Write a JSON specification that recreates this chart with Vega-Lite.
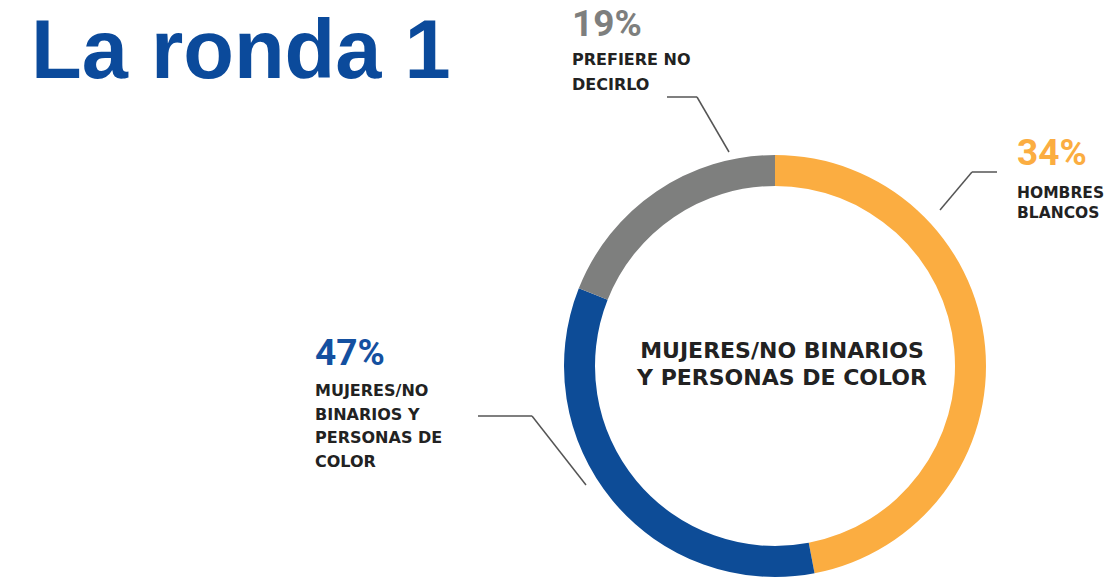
{
  "$schema": "https://vega.github.io/schema/vega-lite/v6.json",
  "width": 1111,
  "height": 583,
  "autosize": {"type": "fit", "contains": "padding"},
  "padding": 0,
  "background": "white",
  "config": {"view": {"stroke": null}},
  "datasets": {
    "segmentos": [
      {"grupo": "Hombres blancos", "arco": 47, "orden": 1, "pct": "34%", "etiqueta": "HOMBRES\nBLANCOS"},
      {"grupo": "Mujeres/No binarios y personas de color", "arco": 34, "orden": 2, "pct": "47%", "etiqueta": "MUJERES/NO\nBINARIOS Y\nPERSONAS DE\nCOLOR"},
      {"grupo": "Prefiere no decirlo", "arco": 19, "orden": 3, "pct": "19%", "etiqueta": "PREFIERE NO\nDECIRLO"}
    ]
  },
  "data": {"name": "segmentos"},
  "layer": [
    {
      "mark": {"type": "arc", "radius": 211, "radius2": 180},
      "encoding": {
        "theta": {"field": "arco", "type": "quantitative", "stack": true},
        "order": {"field": "orden", "type": "quantitative"},
        "color": {"field": "grupo", "type": "nominal", "legend": null,
          "scale": {"domain": ["Hombres blancos", "Mujeres/No binarios y personas de color", "Prefiere no decirlo"], "range": ["#FBAD41", "#0D4C97", "#7E7F7E"]}},
        "x": {"datum": 0, "type": "quantitative", "axis": null, "scale": {"domain": [-775, 336], "nice": false, "zero": false}},
        "y": {"datum": 0, "type": "quantitative", "axis": null, "scale": {"domain": [-217, 366], "nice": false, "zero": false}}
      }
    },
    {
      "data": {"values": [{"t": "La ronda 1"}]},
      "mark": {"type": "text", "align": "left", "baseline": "alphabetic", "font": "Liberation Sans", "fontWeight": "bold", "fontSize": 83, "color": "#0B4A9B"},
      "encoding": {
        "text": {"field": "t"},
        "x": {"datum": -744, "type": "quantitative", "axis": null, "scale": {"domain": [-775, 336], "nice": false, "zero": false}},
        "y": {"datum": 288, "type": "quantitative", "axis": null, "scale": {"domain": [-217, 366], "nice": false, "zero": false}}
      }
    },
    {
      "data": {"values": [{"t": "MUJERES/NO BINARIOS\nY PERSONAS DE COLOR"}]},
      "mark": {"type": "text", "align": "center", "baseline": "alphabetic", "font": "DejaVu Sans", "fontWeight": "bold", "fontSize": 22, "lineHeight": 27, "lineBreak": "\n", "color": "#222222"},
      "encoding": {
        "text": {"field": "t"},
        "x": {"datum": 7, "type": "quantitative", "axis": null, "scale": {"domain": [-775, 336], "nice": false, "zero": false}},
        "y": {"datum": 8, "type": "quantitative", "axis": null, "scale": {"domain": [-217, 366], "nice": false, "zero": false}}
      }
    },
    {
      "transform": [{"filter": "datum.orden == 1"}],
      "mark": {"type": "text", "align": "left", "baseline": "alphabetic", "font": "Roboto", "fontWeight": "bold", "fontSize": 37, "color": "#FBAD41"},
      "encoding": {
        "text": {"field": "pct"},
        "x": {"datum": 242, "type": "quantitative", "axis": null, "scale": {"domain": [-775, 336], "nice": false, "zero": false}},
        "y": {"datum": 201, "type": "quantitative", "axis": null, "scale": {"domain": [-217, 366], "nice": false, "zero": false}}
      }
    },
    {
      "transform": [{"filter": "datum.orden == 1"}],
      "mark": {"type": "text", "align": "left", "baseline": "alphabetic", "font": "DejaVu Sans", "fontWeight": "bold", "fontSize": 15.5, "lineHeight": 20, "lineBreak": "\n", "color": "#222222"},
      "encoding": {
        "text": {"field": "etiqueta"},
        "x": {"datum": 242, "type": "quantitative", "axis": null, "scale": {"domain": [-775, 336], "nice": false, "zero": false}},
        "y": {"datum": 168, "type": "quantitative", "axis": null, "scale": {"domain": [-217, 366], "nice": false, "zero": false}}
      }
    },
    {
      "transform": [{"filter": "datum.orden == 2"}],
      "mark": {"type": "text", "align": "left", "baseline": "alphabetic", "font": "Roboto", "fontWeight": "bold", "fontSize": 37, "color": "#1450A0"},
      "encoding": {
        "text": {"field": "pct"},
        "x": {"datum": -460, "type": "quantitative", "axis": null, "scale": {"domain": [-775, 336], "nice": false, "zero": false}},
        "y": {"datum": 1, "type": "quantitative", "axis": null, "scale": {"domain": [-217, 366], "nice": false, "zero": false}}
      }
    },
    {
      "transform": [{"filter": "datum.orden == 2"}],
      "mark": {"type": "text", "align": "left", "baseline": "alphabetic", "font": "DejaVu Sans", "fontWeight": "bold", "fontSize": 16, "lineHeight": 23.5, "lineBreak": "\n", "color": "#222222"},
      "encoding": {
        "text": {"field": "etiqueta"},
        "x": {"datum": -460, "type": "quantitative", "axis": null, "scale": {"domain": [-775, 336], "nice": false, "zero": false}},
        "y": {"datum": -30, "type": "quantitative", "axis": null, "scale": {"domain": [-217, 366], "nice": false, "zero": false}}
      }
    },
    {
      "transform": [{"filter": "datum.orden == 3"}],
      "mark": {"type": "text", "align": "left", "baseline": "alphabetic", "font": "Roboto", "fontWeight": "bold", "fontSize": 37, "color": "#7E7F7E"},
      "encoding": {
        "text": {"field": "pct"},
        "x": {"datum": -203, "type": "quantitative", "axis": null, "scale": {"domain": [-775, 336], "nice": false, "zero": false}},
        "y": {"datum": 330, "type": "quantitative", "axis": null, "scale": {"domain": [-217, 366], "nice": false, "zero": false}}
      }
    },
    {
      "transform": [{"filter": "datum.orden == 3"}],
      "mark": {"type": "text", "align": "left", "baseline": "alphabetic", "font": "DejaVu Sans", "fontWeight": "bold", "fontSize": 16, "lineHeight": 25, "lineBreak": "\n", "color": "#222222"},
      "encoding": {
        "text": {"field": "etiqueta"},
        "x": {"datum": -203, "type": "quantitative", "axis": null, "scale": {"domain": [-775, 336], "nice": false, "zero": false}},
        "y": {"datum": 301, "type": "quantitative", "axis": null, "scale": {"domain": [-217, 366], "nice": false, "zero": false}}
      }
    },
    {
      "data": {"values": [{}]},
      "mark": {"type": "rule", "color": "#555555", "strokeWidth": 1.5},
      "encoding": {
        "x": {"datum": -108, "type": "quantitative", "axis": null, "scale": {"domain": [-775, 336], "nice": false, "zero": false}},
        "y": {"datum": 269, "type": "quantitative", "axis": null, "scale": {"domain": [-217, 366], "nice": false, "zero": false}},
        "x2": {"datum": -78},
        "y2": {"datum": 269}
      }
    },
    {
      "data": {"values": [{}]},
      "mark": {"type": "rule", "color": "#555555", "strokeWidth": 1.5},
      "encoding": {
        "x": {"datum": -78, "type": "quantitative", "axis": null, "scale": {"domain": [-775, 336], "nice": false, "zero": false}},
        "y": {"datum": 269, "type": "quantitative", "axis": null, "scale": {"domain": [-217, 366], "nice": false, "zero": false}},
        "x2": {"datum": -46},
        "y2": {"datum": 214}
      }
    },
    {
      "data": {"values": [{}]},
      "mark": {"type": "rule", "color": "#555555", "strokeWidth": 1.5},
      "encoding": {
        "x": {"datum": 165, "type": "quantitative", "axis": null, "scale": {"domain": [-775, 336], "nice": false, "zero": false}},
        "y": {"datum": 156, "type": "quantitative", "axis": null, "scale": {"domain": [-217, 366], "nice": false, "zero": false}},
        "x2": {"datum": 197},
        "y2": {"datum": 194}
      }
    },
    {
      "data": {"values": [{}]},
      "mark": {"type": "rule", "color": "#555555", "strokeWidth": 1.5},
      "encoding": {
        "x": {"datum": 197, "type": "quantitative", "axis": null, "scale": {"domain": [-775, 336], "nice": false, "zero": false}},
        "y": {"datum": 194, "type": "quantitative", "axis": null, "scale": {"domain": [-217, 366], "nice": false, "zero": false}},
        "x2": {"datum": 222},
        "y2": {"datum": 194}
      }
    },
    {
      "data": {"values": [{}]},
      "mark": {"type": "rule", "color": "#555555", "strokeWidth": 1.5},
      "encoding": {
        "x": {"datum": -297, "type": "quantitative", "axis": null, "scale": {"domain": [-775, 336], "nice": false, "zero": false}},
        "y": {"datum": -50, "type": "quantitative", "axis": null, "scale": {"domain": [-217, 366], "nice": false, "zero": false}},
        "x2": {"datum": -243},
        "y2": {"datum": -50}
      }
    },
    {
      "data": {"values": [{}]},
      "mark": {"type": "rule", "color": "#555555", "strokeWidth": 1.5},
      "encoding": {
        "x": {"datum": -243, "type": "quantitative", "axis": null, "scale": {"domain": [-775, 336], "nice": false, "zero": false}},
        "y": {"datum": -50, "type": "quantitative", "axis": null, "scale": {"domain": [-217, 366], "nice": false, "zero": false}},
        "x2": {"datum": -189},
        "y2": {"datum": -119}
      }
    }
  ]
}
